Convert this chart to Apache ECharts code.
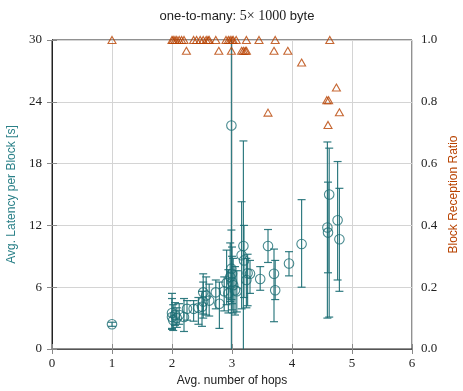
<!DOCTYPE html>
<html><head><meta charset="utf-8">
<script src="https://cdn.jsdelivr.net/npm/echarts@6/dist/echarts.min.js"></script>
<style>html,body{margin:0;padding:0;background:#fff}#c{width:463px;height:391px}</style>
</head><body><div id="c"></div>
<script>
// Latency points: avg hops, avg latency, error low, error high
var hopsX = [1.0, 2.0, 2.0, 2.02, 2.05, 2.08, 2.12, 2.2, 2.25, 2.36, 2.44, 2.5, 2.52, 2.52, 2.57, 2.62, 2.73, 2.79, 2.87, 2.91, 2.94, 2.97, 2.99, 2.99, 3.0, 3.0, 3.02, 3.05, 3.08, 3.16, 3.19, 3.2, 3.24, 3.26, 3.3, 3.47, 3.6, 3.7, 3.72, 3.95, 4.16, 4.59, 4.6, 4.62, 4.76, 4.79];
var latency = [2.4, 3.1, 3.5, 2.8, 3.3, 3.0, 3.3, 3.1, 3.9, 3.9, 4.0, 4.1, 4.6, 5.5, 5.2, 4.7, 5.5, 4.4, 5.6, 6.4, 5.4, 7.0, 7.8, 21.7, 7.3, 6.5, 6.2, 5.7, 5.6, 9.1, 10.0, 8.6, 6.7, 7.35, 7.3, 6.8, 10.0, 7.3, 5.7, 8.3, 10.2, 11.8, 11.3, 15.0, 12.5, 10.65];
var latLow = [2.2, 1.9, 2.0, 1.8, 2.3, 2.1, 2.4, 1.7, 2.8, 2.7, 2.4, 2.2, 3.0, 3.4, 3.3, 3.2, 3.9, 2.0, 3.7, 4.3, 3.5, 4.6, 4.8, -4, 4.4, 3.8, 3.5, 3.3, 3.6, 3.9, -3, 5.0, 4.0, 4.2, 5.4, 5.7, 8.4, 2.65, 4.8, 7.1, 6.0, 3.0, 7.4, 3.1, 6.7, 5.6];
var latHigh = [2.6, 5.4, 4.9, 4.3, 4.5, 4.0, 4.4, 4.9, 4.7, 4.7, 5.0, 5.6, 6.5, 7.3, 7.0, 6.3, 6.7, 6.5, 7.0, 9.6, 7.7, 10.3, 11.55, 48, 9.9, 9.0, 8.8, 8.0, 7.6, 14.3, 20.2, 12.0, 8.8, 9.2, 8.6, 8.0, 11.6, 9.7, 8.6, 9.45, 14.5, 20.1, 16.2, 19.5, 18.2, 15.6];
// Block reception ratio points
var ratioX = [1.0, 2.0, 2.02, 2.05, 2.08, 2.12, 2.16, 2.2, 2.36, 2.41, 2.47, 2.52, 2.57, 2.6, 2.62, 2.73, 2.9, 2.94, 2.97, 3.0, 3.02, 3.07, 3.24, 3.45, 3.72, 4.63,
              2.24, 2.78, 2.99, 3.16, 3.19, 3.22, 3.24, 3.7, 3.93,
              4.16, 4.74, 4.58, 4.61, 3.6, 4.79, 4.6];
var ratioY = [1, 1, 1, 1, 1, 1, 1, 1, 1, 1, 1, 1, 1, 1, 1, 1, 1, 1, 1, 1, 1, 1, 1, 1, 1, 1,
              0.965, 0.965, 0.965, 0.965, 0.965, 0.965, 0.965, 0.965, 0.965,
              0.927, 0.846, 0.805, 0.805, 0.765, 0.766, 0.725];
var xTicks = [0, 1, 2, 3, 4, 5, 6];
var yLeftMax = 30, yLeftStep = 6;

var TEAL = '#1c6e74', ORANGE = '#b84200';
var serif = '"Liberation Serif", "DejaVu Serif", serif';
var sans = '"Liberation Sans", Arial, sans-serif';

var pts = hopsX.map(function (x, i) { return [x, latency[i]]; });
var errs = hopsX.map(function (x, i) { return [x, latLow[i], latHigh[i]]; });
var tri = ratioX.map(function (x, i) { return [x, ratioY[i]]; });

var chart = echarts.init(document.getElementById('c'));
chart.setOption({
  animation: false,
  title: {
    text: '{s|one-to-many: }{m|5× 1000}{s| byte}',
    left: 232, top: 4, textAlign: 'center',
    textStyle: { fontWeight: 'normal', rich: { s: { fontFamily: sans, fontSize: 13, color: '#222', fontWeight: 'normal' }, m: { fontFamily: serif, fontSize: 14, color: '#222', fontWeight: 'normal' } } }
  },
  grid: { left: 52, right: 51, top: 40, bottom: 42, show: true, borderColor: '#222', borderWidth: 1, containLabel: false, outerBoundsMode: 'none' },
  xAxis: [{
    type: 'value', min: 0, max: 6, interval: 1, position: 'bottom',
    name: 'Avg. number of hops', nameLocation: 'middle', nameGap: 24,
    nameTextStyle: { fontFamily: sans, fontSize: 12, color: '#222' },
    axisLine: { lineStyle: { color: '#222' } },
    axisTick: { inside: true, length: 5, lineStyle: { color: '#888' } },
    axisLabel: { fontFamily: serif, fontSize: 13, color: '#222', margin: 8 },
    splitLine: { show: true, lineStyle: { color: '#d4d4d4' } }
  }, {
    type: 'value', min: 0, max: 6, interval: 1, position: 'top',
    axisLine: { show: true, lineStyle: { color: '#555' } },
    axisTick: { show: true, inside: true, length: 5, lineStyle: { color: '#888' } },
    axisLabel: { show: false }, splitLine: { show: false }
  }],
  yAxis: [{
    type: 'value', min: 0, max: yLeftMax, interval: yLeftStep,
    name: 'Avg. Latency per Block [s]', nameLocation: 'middle', nameGap: 32, nameRotate: 90,
    nameTextStyle: { fontFamily: sans, fontSize: 12, color: '#2a8088' },
    axisLine: { show: true, lineStyle: { color: '#222' } },
    axisTick: { show: true, inside: true, length: 5, lineStyle: { color: '#888' } },
    axisLabel: { fontFamily: serif, fontSize: 13, color: '#222', margin: 10 },
    splitLine: { show: true, lineStyle: { color: '#d4d4d4' } }
  }, {
    type: 'value', min: 0, max: 1, interval: 0.2, position: 'right',
    name: 'Block Reception Ratio', nameLocation: 'middle', nameGap: 36, nameRotate: 90,
    nameTextStyle: { fontFamily: sans, fontSize: 12, color: ORANGE },
    axisLine: { show: true, lineStyle: { color: '#222' } },
    axisTick: { show: true, inside: true, length: 5, lineStyle: { color: '#888' } },
    axisLabel: { fontFamily: serif, fontSize: 13, color: '#222', margin: 9, formatter: function (v) { return v.toFixed(1); } },
    splitLine: { show: false }
  }],
  series: [{
    type: 'custom', xAxisIndex: 0, yAxisIndex: 0, z: 2,
    encode: { x: 0, y: [1, 2] },
    data: errs,
    renderItem: function (params, api) {
      var x = api.value(0), lo = api.value(1), hi = api.value(2);
      var lc = Math.max(lo, 0), hc = Math.min(hi, yLeftMax);
      var p1 = api.coord([x, lc]), p2 = api.coord([x, hc]);
      var st = { stroke: TEAL, lineWidth: 1.2, opacity: 0.9 };
      var ch = [{ type: 'line', shape: { x1: p1[0], y1: p1[1], x2: p2[0], y2: p2[1] }, style: st }];
      var w = 4;
      if (lo >= 0) ch.push({ type: 'line', shape: { x1: p1[0] - w, y1: p1[1], x2: p1[0] + w, y2: p1[1] }, style: st });
      if (hi <= yLeftMax) ch.push({ type: 'line', shape: { x1: p2[0] - w, y1: p2[1], x2: p2[0] + w, y2: p2[1] }, style: st });
      return { type: 'group', children: ch };
    }
  }, {
    type: 'scatter', xAxisIndex: 0, yAxisIndex: 0, z: 3,
    symbol: 'circle', symbolSize: 9.5,
    itemStyle: { color: 'rgba(0,0,0,0)', borderColor: TEAL, borderWidth: 1.1 },
    data: pts
  }, {
    type: 'scatter', xAxisIndex: 0, yAxisIndex: 1, z: 4,
    symbol: 'triangle', symbolSize: [8, 7],
    itemStyle: { color: 'rgba(0,0,0,0)', borderColor: ORANGE, borderWidth: 1.1 },
    data: tri
  }]
});
</script></body></html>
